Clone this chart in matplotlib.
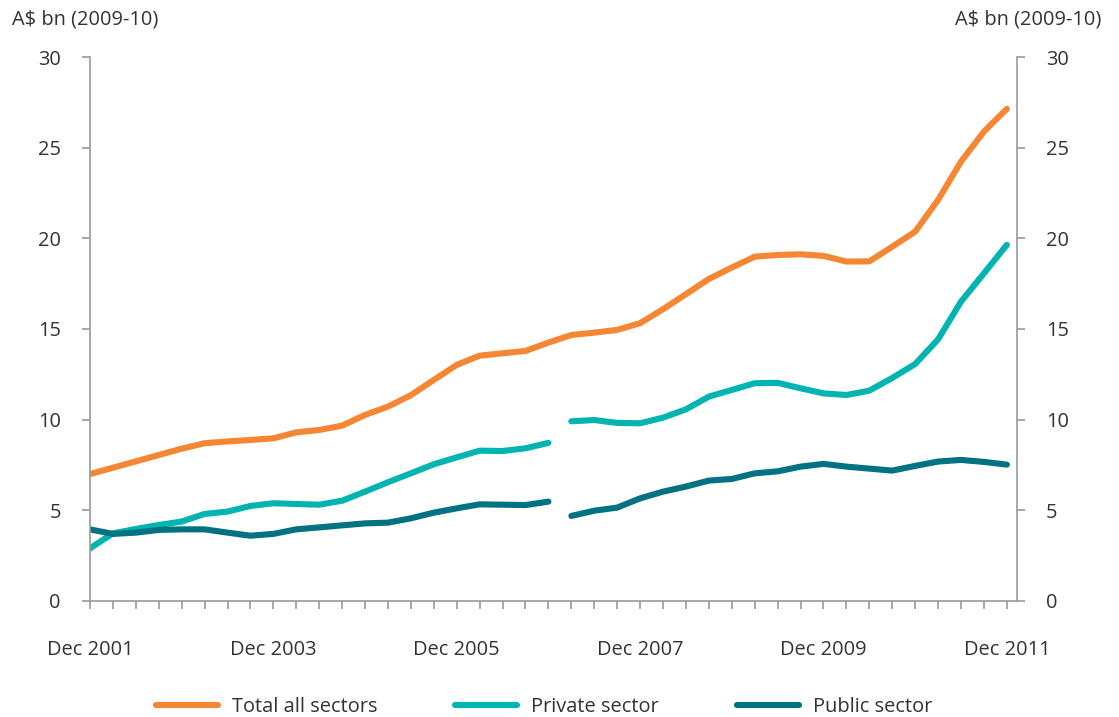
import numpy as np
import matplotlib
matplotlib.use("Agg")
import matplotlib.pyplot as plt
from matplotlib.lines import Line2D

plt.rcParams['font.family'] = ['Open Sans', 'DejaVu Sans']

# quarterly, Dec 2001 .. Dec 2011
quarters = np.arange(41)
tick_labels = ['Dec 2001', 'Dec 2003', 'Dec 2005', 'Dec 2007', 'Dec 2009', 'Dec 2011']

total = [7.0, 7.35, 7.7, 8.05, 8.4, 8.7, 8.8, 8.88, 8.97, 9.3,
         9.43, 9.67, 10.26, 10.72, 11.35, 12.19, 13.02, 13.53, 13.66, 13.79,
         14.25, 14.67, 14.8, 14.95, 15.32, 16.09, 16.92, 17.76, 18.39, 18.99,
         19.08, 19.12, 19.03, 18.72, 18.73, 19.54, 20.37, 22.12, 24.23, 25.89,
         27.14]
private = [2.9, 3.73, 3.97, 4.19, 4.38, 4.8, 4.93, 5.24, 5.39, 5.35,
           5.31, 5.53, 6.03, 6.55, 7.04, 7.54, 7.92, 8.29, 8.27, 8.42,
           8.72, 9.91, 9.98, 9.82, 9.8, 10.11, 10.57, 11.27, 11.64, 12.01,
           12.03, 11.73, 11.45, 11.36, 11.6, 12.3, 13.07, 14.43, 16.51, 18.07,
           19.64]
public = [3.95, 3.7, 3.77, 3.92, 3.95, 3.95, 3.77, 3.6, 3.7, 3.95,
          4.06, 4.17, 4.28, 4.32, 4.56, 4.87, 5.11, 5.33, 5.31, 5.29,
          5.48, 4.69, 4.98, 5.15, 5.66, 6.03, 6.31, 6.64, 6.73, 7.04,
          7.15, 7.41, 7.56, 7.41, 7.3, 7.19, 7.45, 7.69, 7.78, 7.67,
          7.52]

c_total = '#F58634'
c_private = '#00B5B1'
c_public = '#007282'
txt = '#333333'
axis_grey = '#9a9a9a'
lw = 4.4
fs = 14.4

fig = plt.figure(figsize=(11.19, 7.17), dpi=100)
ax = fig.add_axes([0.0804, 0.1618, 0.8284, 0.7587])

style = dict(linewidth=lw, solid_capstyle='round', solid_joinstyle='round')
ax.plot(quarters, total, color=c_total, **style)
# break in the sector series between Dec 2006 and Mar 2007
brk = 21
for series, col in [(private, c_private), (public, c_public)]:
    ax.plot(quarters[:brk], series[:brk], color=col, **style)
    ax.plot(quarters[brk:], series[brk:], color=col, **style)

ax.set_xlim(0, 40.44)
ax.set_ylim(0, 30)
ax.set_yticks(range(0, 31, 5))
ax.set_xticks(range(0, 41, 8))
ax.set_xticklabels(tick_labels)
ax.set_xticks(quarters, minor=True)

for side in ['left', 'right', 'bottom']:
    ax.spines[side].set_color(axis_grey)
    ax.spines[side].set_linewidth(1.2)
ax.spines['top'].set_visible(False)

ax.tick_params(axis='y', left=True, right=True, labelleft=True, labelright=True,
               length=6, width=1.2, color=axis_grey, pad=15, labelsize=fs,
               labelcolor=txt)
ax.tick_params(axis='x', which='both', length=6, width=1.2, color=axis_grey,
               labelsize=fs, labelcolor=txt, pad=22)

fig.text(12 / 1119, 1 - 20 / 717, 'A$ bn (2009-10)', ha='left', va='center',
         fontsize=fs, color=txt)
fig.text(1101 / 1119, 1 - 20 / 717, 'A$ bn (2009-10)', ha='right', va='center',
         fontsize=fs, color=txt)

handles = [Line2D([], [], color=c, linewidth=lw, solid_capstyle='round')
           for c in (c_total, c_private, c_public)]
fig.legend(handles, ['Total all sectors', 'Private sector', 'Public sector'],
           loc='center', bbox_to_anchor=(0.486, 1 - 707 / 717), ncol=3,
           frameon=False, fontsize=fs, labelcolor=txt,
           handlelength=3.1, handletextpad=0.7, columnspacing=3.9)

fig.savefig('out.png', dpi=100)
